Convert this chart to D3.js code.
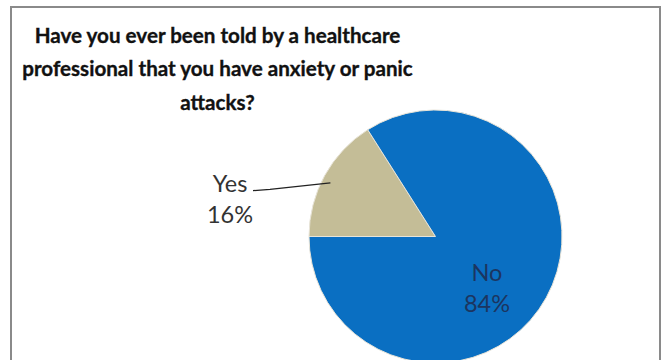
<!DOCTYPE html>
<html>
<head>
<meta charset="utf-8">
<script src="https://cdn.jsdelivr.net/npm/d3@7"></script>
<style>
  html, body { margin: 0; padding: 0; background: #fff; }
  svg { display: block; }
</style>
</head>
<body>
<svg id="chart" width="667" height="360"></svg>
<script>
// Survey answers
const categories = ["Yes", "No"];
const values = [16, 84];
const sliceColors = ["#c4bd97", "#0a6fc2"];
const titleLines = [
  "Have you ever been told by a healthcare",
  "professional that you have anxiety or panic",
  "attacks?"
];

const W = 667, H = 360;
const svg = d3.select("#chart");

// chart frame
svg.append("rect")
  .attr("x", 11).attr("y", 7)
  .attr("width", 649).attr("height", 370)
  .attr("fill", "#fff")
  .attr("stroke", "#8a8a8a")
  .attr("stroke-width", 2);

// title: tall, slightly condensed bold lettering
const title = svg.append("g")
  .attr("font-family", "Lato, 'Open Sans', sans-serif")
  .attr("font-weight", "bold")
  .attr("fill", "#111")
  .attr("stroke", "#111")
  .attr("stroke-width", 0.35)
  .attr("text-anchor", "middle");

const titleBaselines = [43, 76, 110];
const titleText = title.selectAll("text")
  .data(titleLines)
  .join("text")
  .attr("x", 0)
  .attr("y", (d, i) => titleBaselines[i])
  .attr("font-size", 20.5)
  .text(d => d);
const w0 = titleText.nodes()[0].getComputedTextLength();
const sx = 366 / w0;
title.attr("transform", `translate(217.5,0) scale(${sx},1)`);

// pie
const cx = 435.5, cy = 236.5, r = 126.5;
const pie = d3.pie()
  .sort(null)
  .startAngle(-Math.PI / 2)
  .endAngle(-Math.PI / 2 + 2 * Math.PI)
  .value(d => d.value);
const arcs = pie(categories.map((c, i) => ({ name: c, value: values[i] })));
const arc = d3.arc().innerRadius(0).outerRadius(r);

const g = svg.append("g").attr("transform", `translate(${cx},${cy})`);
g.selectAll("path")
  .data(arcs)
  .join("path")
  .attr("d", arc)
  .attr("fill", (d, i) => sliceColors[i])
  .attr("stroke", "#e8e4d8")
  .attr("stroke-width", 1);

// labels
const labelFont = "Lato, 'Open Sans', sans-serif";
const yesArc = arcs[0];
const yesEdge = d3.arc().innerRadius(r * 0.93).outerRadius(r * 0.93).centroid(yesArc);

svg.append("path")
  .attr("d", d3.line()([[253, 190.7], [270, 189.3], [cx + yesEdge[0] - 2, cy + yesEdge[1] + 3]]))
  .attr("fill", "none")
  .attr("stroke", "#222")
  .attr("stroke-width", 1.3);

const yesLabel = svg.append("text")
  .attr("font-family", labelFont)
  .attr("font-size", 23.5)
  .attr("fill", "#333")
  .attr("text-anchor", "middle");
yesLabel.append("tspan").attr("x", 230).attr("y", 192).text(categories[0]);
yesLabel.append("tspan").attr("x", 230).attr("y", 223).text(values[0] + "%");

const noLabel = svg.append("text")
  .attr("font-family", labelFont)
  .attr("font-size", 23.5)
  .attr("fill", "#1c3560")
  .attr("text-anchor", "middle");
noLabel.append("tspan").attr("x", 487).attr("y", 281).text(categories[1]);
noLabel.append("tspan").attr("x", 487).attr("y", 312).text(values[1] + "%");
</script>
</body>
</html>
